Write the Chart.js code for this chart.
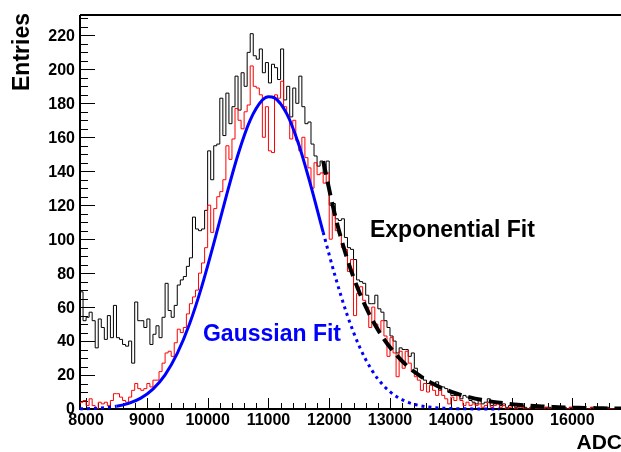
<!DOCTYPE html>
<html>
<head>
<meta charset="utf-8">
<script src="https://cdn.jsdelivr.net/npm/chart.js@4.4.1/dist/chart.umd.min.js"></script>
<style>
html, body { margin: 0; padding: 0; background: #fff; }
#wrap { width: 621px; height: 452px; }
</style>
</head>
<body>
<div id="wrap"><canvas id="adcChart"></canvas></div>
<script>
// histogram binning (ADC)
const binStart = 7900;
const binWidth = 50;

// all entries (black outline), one value per 50 ADC bin from 7900
const allEntries = [
	54, 69, 52, 54, 57, 52, 36, 53, 48, 41,
	55, 42, 61, 42, 41, 38, 37, 40, 27, 63,
	52, 52, 48, 53, 38, 44, 49, 42, 54, 74,
	58, 54, 61, 73, 76, 78, 84, 89, 113, 106,
	105, 106, 117, 152, 135, 155, 156, 183, 161, 186,
	168, 178, 196, 176, 198, 190, 210, 221, 208, 206,
	212, 198, 204, 192, 203, 201, 194, 212, 182, 190,
	172, 189, 180, 196, 178, 168, 169, 156, 149, 143,
	146, 139, 146, 120, 121, 112, 111, 112, 101, 95,
	94, 88, 76, 75, 74, 67, 62, 62, 67, 59,
	57, 52, 48, 43, 40, 33, 36, 35, 35, 31,
	33, 24, 20, 19, 17, 15, 15, 15, 16, 11,
	13, 12, 10, 8, 8, 9, 6, 8, 7, 5,
	4, 3, 5, 3, 4, 6, 2, 3, 4, 2,
	3, 1, 2, 3, 1, 2, 2, 1, 0, 1,
	2, 1, 1, 0, 1, 1, 0, 1, 0, 0,
	1, 0, 1, 0, 0, 1, 0, 0, 0, 1,
	0, 0, 0, 0, 1, 0, 0, 0
];

// selected entries (red outline)
const selectedEntries = [
	3, 4, 5, 2, 6, 2, 0, 4, 3, 4,
	2, 5, 9, 9, 7, 5, 4, 7, 11, 15,
	12, 11, 12, 15, 13, 17, 17, 22, 27, 33,
	34, 31, 39, 47, 45, 48, 56, 62, 66, 70,
	80, 86, 95, 120, 104, 118, 125, 128, 135, 155,
	147, 159, 177, 170, 165, 175, 179, 202, 190, 189,
	185, 160, 178, 152, 151, 185, 183, 193, 178, 173,
	159, 170, 158, 152, 160, 148, 142, 130, 145, 138,
	139, 133, 139, 100, 117, 105, 103, 95, 94, 81,
	88, 55, 68, 72, 64, 60, 48, 60, 50, 46,
	52, 43, 31, 42, 33, 19, 34, 24, 34, 27,
	22, 19, 17, 11, 15, 10, 14, 11, 8, 11,
	8, 6, 3, 7, 5, 8, 5, 2, 4, 2,
	3, 2, 3, 1, 2, 4, 1, 2, 3, 1,
	2, 0, 1, 2, 0, 1, 1, 0, 0, 1,
	1, 0, 0, 0, 1, 0, 0, 1, 0, 0,
	0, 0, 1, 0, 0, 0, 0, 0, 0, 1,
	0, 0, 0, 0, 0, 0, 0, 0
];

// gaussian fit curve
const gausX = [7900, 8100, 8300, 8500, 8700, 8900, 9100, 9300, 9500, 9700, 9900, 10100, 10300, 10500, 10700, 10900, 11000, 11100, 11300, 11500, 11700, 11900, 12100, 12300, 12500, 12700, 12900, 13100, 13300, 13500, 13700, 13900, 14100, 14300, 14500, 14800];
const gausY = [0.1, 0.3, 0.7, 1.6, 3.3, 6.4, 11.7, 20.1, 32.7, 49.9, 71.8, 97.4, 124.5, 149.9, 170.1, 181.9, 183.9, 183.2, 173.9, 155.6, 131.1, 104.1, 77.9, 54.9, 36.5, 22.9, 13.5, 7.5, 3.9, 1.9, 0.9, 0.4, 0.2, 0.1, 0, 0];
const gausSolidFrom = 8500;
const gausSolidTo = 11900;

// exponential fit curve
const expoX = [11900, 12100, 12300, 12500, 12700, 12900, 13100, 13300, 13500, 13700, 13900, 14100, 14300, 14500, 14700, 14900, 15100, 15300, 15500, 15700, 15900, 16100, 16300, 16500, 16700, 16800];
const expoY = [146, 113.4, 88.0, 68.3, 53.1, 41.2, 32.0, 24.8, 19.3, 15.0, 11.6, 9.0, 7.0, 5.4, 4.2, 3.3, 2.5, 2.0, 1.5, 1.2, 0.9, 0.7, 0.6, 0.4, 0.3, 0.3];

// axis ticks
const xTicks = [8000, 9000, 10000, 11000, 12000, 13000, 14000, 15000, 16000];
const yTicks = [0, 20, 40, 60, 80, 100, 120, 140, 160, 180, 200, 220];
const xMinorStep = 200;
const yMinorStep = 5;

const FONT = '"Liberation Sans", Arial, Helvetica, sans-serif';

function histPoints(counts) {
	const pts = counts.map((c, i) => ({ x: binStart + i * binWidth, y: c }));
	pts.push({ x: binStart + counts.length * binWidth, y: counts[counts.length - 1] });
	return pts;
}

function curvePoints(xs, ys) {
	return xs.map((x, i) => ({ x: x, y: ys[i] }));
}

// ROOT-like frame and inward ticks, under the histograms
const rootFrame = {
	id: 'rootFrame',
	beforeDatasetsDraw(chart) {
		const ctx = chart.ctx;
		const a = chart.chartArea;
		const xs = chart.scales.x;
		const ys = chart.scales.y;
		ctx.save();
		ctx.strokeStyle = '#000';
		ctx.lineWidth = 1;
		ctx.beginPath();
		for (let v = 8000; v <= xs.max; v += xMinorStep) {
			const px = Math.round(xs.getPixelForValue(v)) + 0.5;
			const len = xTicks.includes(v) ? 11 : 6;
			ctx.moveTo(px, a.bottom);
			ctx.lineTo(px, a.bottom - len);
		}
		for (let v = 0; v <= ys.max; v += yMinorStep) {
			const py = Math.round(ys.getPixelForValue(v)) + 0.5;
			const len = yTicks.includes(v) ? 15 : 8;
			ctx.moveTo(a.left, py);
			ctx.lineTo(a.left + len, py);
		}
		ctx.stroke();

		ctx.lineWidth = 2;
		ctx.beginPath();
		ctx.moveTo(a.left, a.top);
		ctx.lineTo(a.right + 2, a.top);
		ctx.moveTo(a.left, a.top);
		ctx.lineTo(a.left, a.bottom);
		ctx.lineTo(a.right + 2, a.bottom);
		ctx.stroke();
		ctx.restore();
	}
};

// tick labels, titles and fit labels
const rootText = {
	id: 'rootText',
	afterDatasetsDraw(chart) {
		const ctx = chart.ctx;
		const xs = chart.scales.x;
		const ys = chart.scales.y;
		ctx.save();
		ctx.fillStyle = '#000';
		ctx.font = 'bold 16px ' + FONT;
		ctx.textAlign = 'center';
		ctx.textBaseline = 'middle';
		xTicks.forEach(v => {
			ctx.fillText(String(v), xs.getPixelForValue(v), 421);
		});
		ctx.textAlign = 'right';
		yTicks.forEach(v => {
			ctx.fillText(String(v), 75, ys.getPixelForValue(v) + 1);
		});

		ctx.font = 'bold 21px ' + FONT;
		ctx.textBaseline = 'alphabetic';
		ctx.textAlign = 'right';
		ctx.fillText('ADC', 622, 449);

		ctx.save();
		ctx.font = 'bold 23px ' + FONT;
		ctx.translate(29, 13);
		ctx.rotate(-Math.PI / 2);
		ctx.textAlign = 'right';
		ctx.fillText('Entries', 0, 0);
		ctx.restore();

		ctx.font = 'bold 23px ' + FONT;
		ctx.textAlign = 'left';
		ctx.fillStyle = '#0000ff';
		ctx.fillText('Gaussian Fit', xs.getPixelForValue(9923), ys.getPixelForValue(40));
		ctx.fillStyle = '#000';
		ctx.fillText('Exponential Fit', xs.getPixelForValue(12670), ys.getPixelForValue(101));
		ctx.restore();
	}
};

const chart = new Chart(document.getElementById('adcChart'), {
	type: 'line',
	data: {
		datasets: [
			{
				data: curvePoints(expoX, expoY),
				borderColor: '#000',
				borderWidth: 4,
				borderDash: [14, 7],
				pointRadius: 0,
				cubicInterpolationMode: 'monotone',
				fill: false
			},
			{
				data: curvePoints(gausX, gausY),
				borderColor: '#0000ff',
				borderWidth: 3,
				pointRadius: 0,
				cubicInterpolationMode: 'monotone',
				fill: false,
				clip: 3,
				segment: {
					// dotted outside the fit range
					borderDash: c => (c.p0.parsed.x < gausSolidFrom || c.p0.parsed.x >= gausSolidTo) ? [3, 4] : undefined
				}
			},
			{
				data: histPoints(selectedEntries),
				borderColor: '#ff0000',
				borderWidth: 1,
				stepped: 'after',
				pointRadius: 0,
				fill: false
			},
			{
				data: histPoints(allEntries),
				borderColor: '#000',
				borderWidth: 1,
				stepped: 'after',
				pointRadius: 0,
				fill: false
			}
		]
	},
	options: {
		responsive: true,
		maintainAspectRatio: false,
		devicePixelRatio: 1,
		animation: false,
		events: [],
		layout: { padding: { left: 80, right: 0, top: 15, bottom: 43 } },
		scales: {
			x: { type: 'linear', min: 7900, max: 16800, display: false },
			y: { type: 'linear', min: 0, max: 232, display: false }
		},
		plugins: {
			legend: { display: false },
			tooltip: { enabled: false }
		}
	},
	plugins: [rootFrame, rootText]
});
</script>
</body>
</html>
